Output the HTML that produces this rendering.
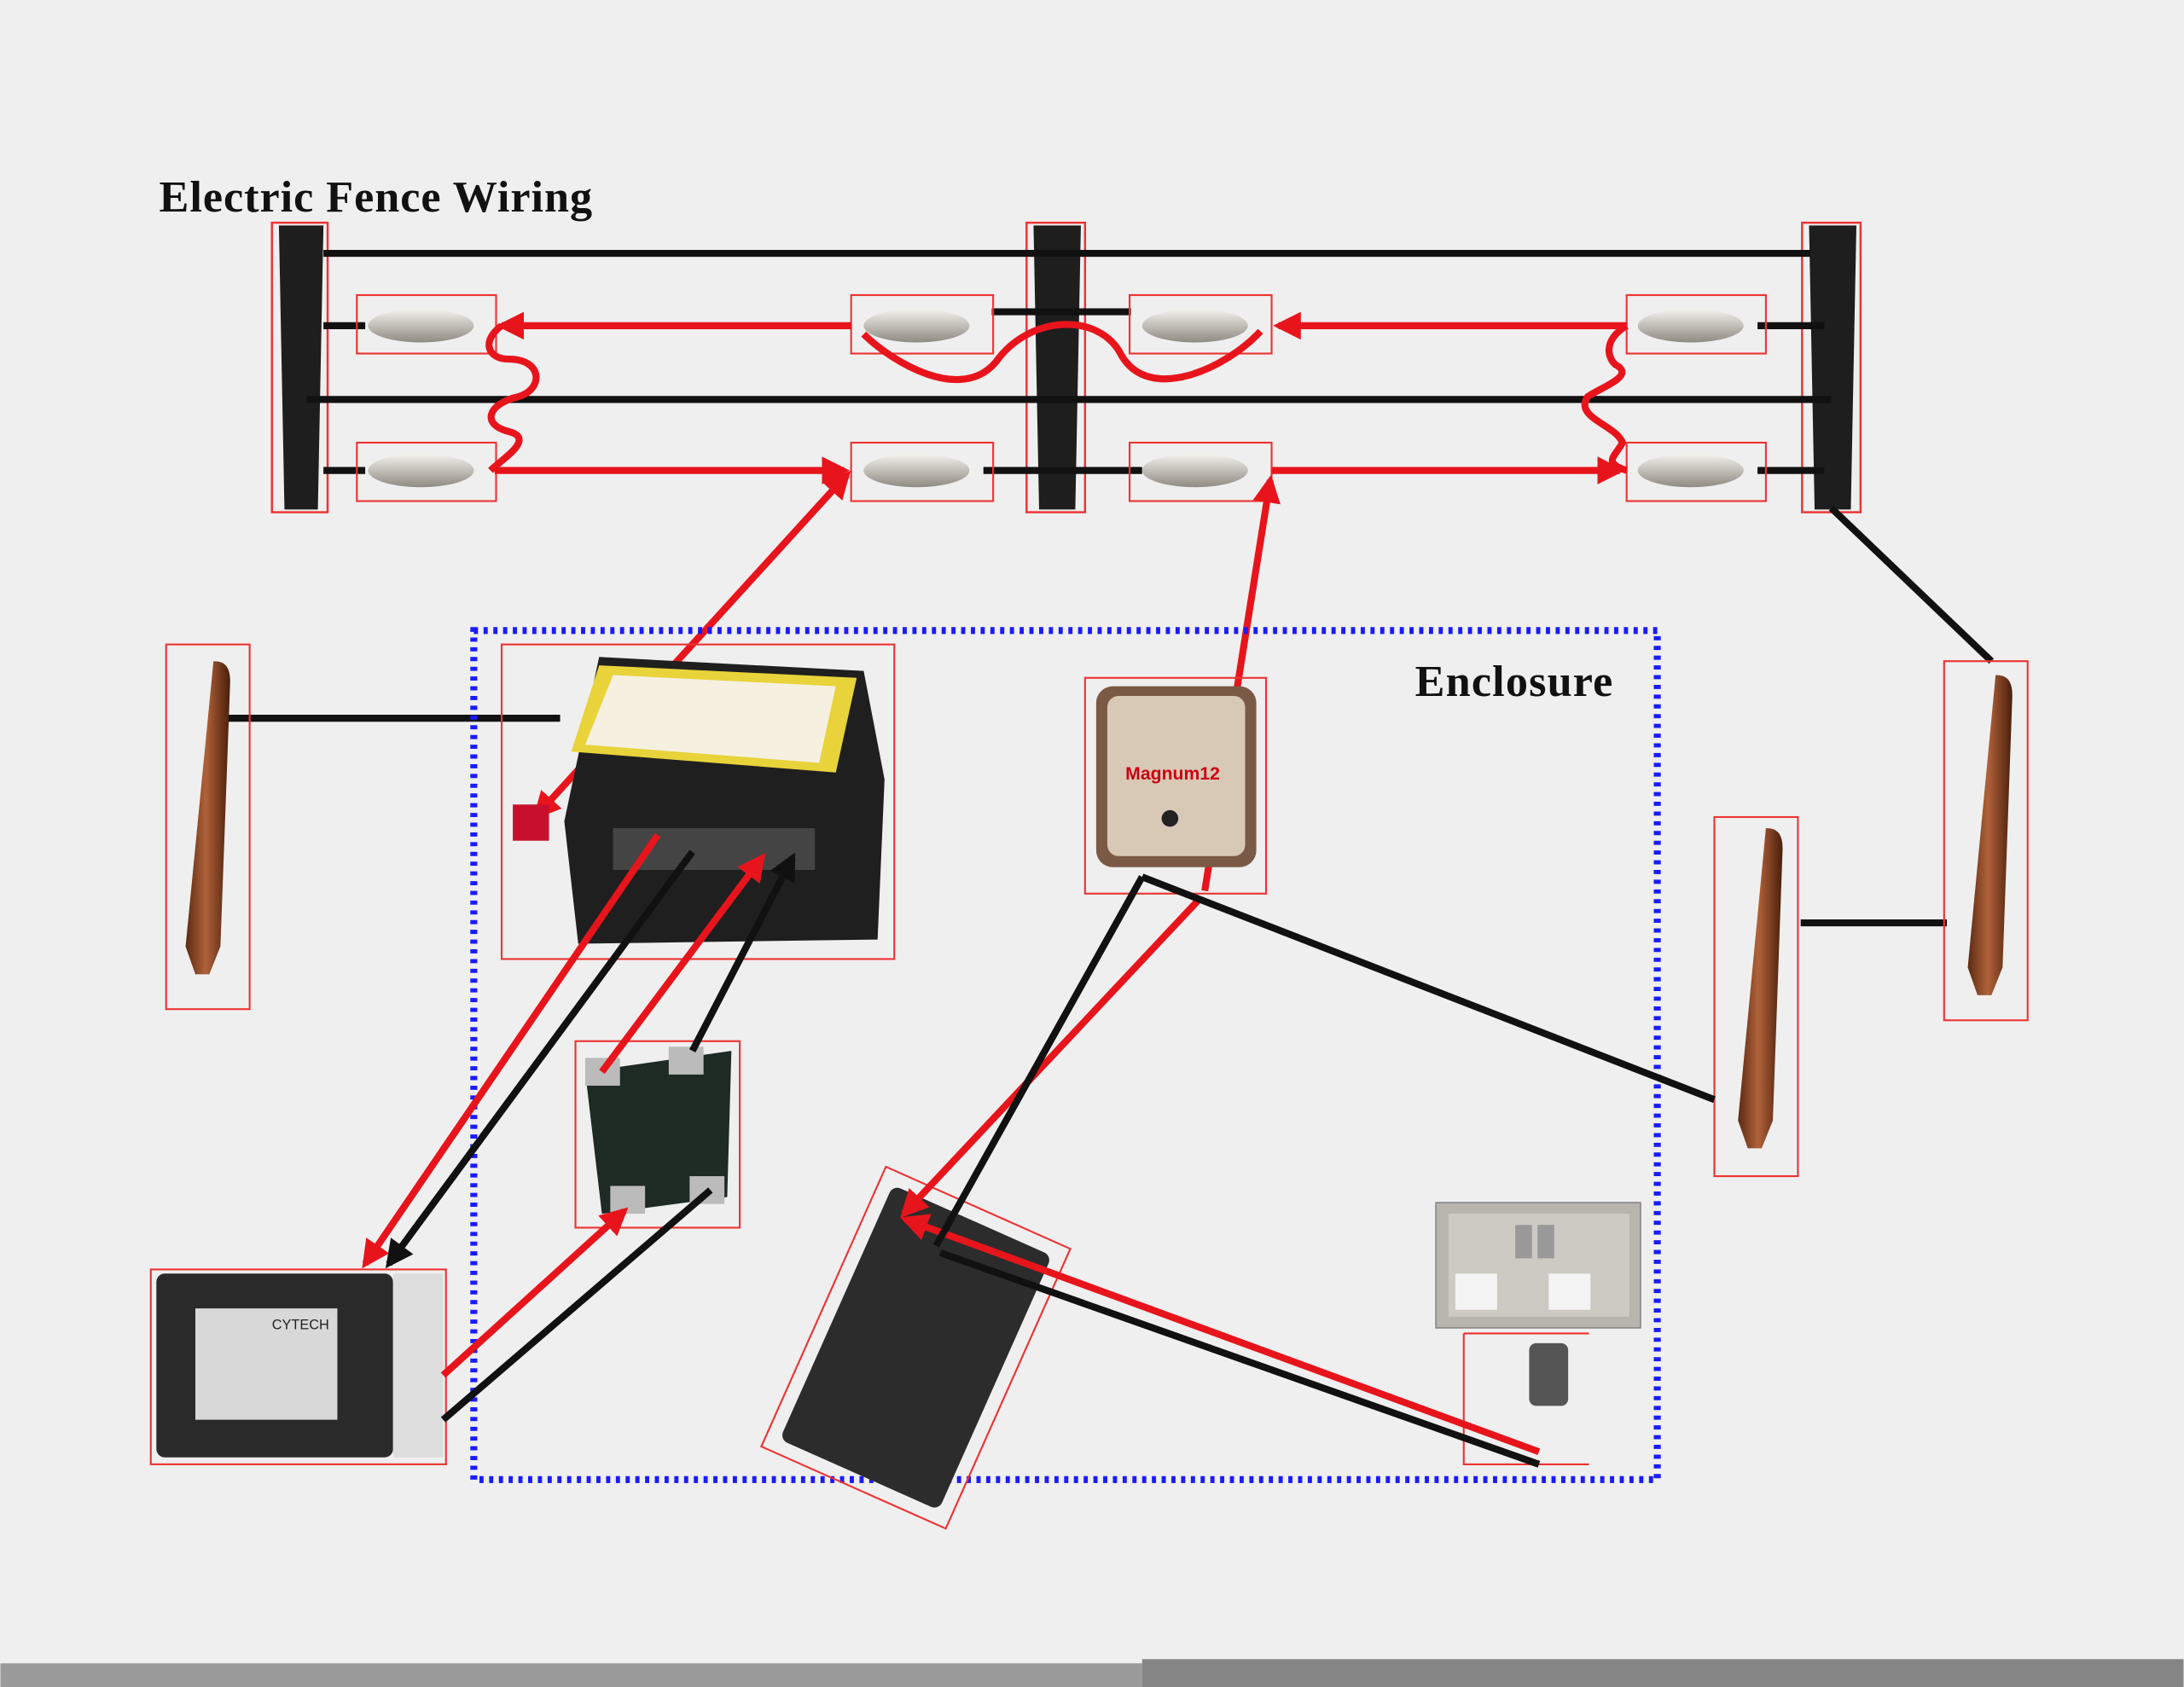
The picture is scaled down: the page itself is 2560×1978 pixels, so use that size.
<!DOCTYPE html>
<html><head><meta charset="utf-8"><style>
html,body{margin:0;padding:0;background:#efefef;}
svg{display:block}
</style></head><body>
<svg width="2560" height="1978" viewBox="0 0 1568 1212" xmlns="http://www.w3.org/2000/svg">
<defs>
<marker id="ar" viewBox="0 0 10 10" refX="8" refY="5" markerWidth="4" markerHeight="4" orient="auto-start-reverse"><path d="M0,0L10,5L0,10z" fill="#e8141c"/></marker>
<marker id="ab" viewBox="0 0 10 10" refX="8" refY="5" markerWidth="4" markerHeight="4" orient="auto-start-reverse"><path d="M0,0L10,5L0,10z" fill="#111"/></marker>
<linearGradient id="rod" x1="0" x2="1"><stop offset="0" stop-color="#5a2a12"/><stop offset=".45" stop-color="#b0623a"/><stop offset="1" stop-color="#4a1e0a"/></linearGradient>
<linearGradient id="ins" x1="0" y1="0" x2="0" y2="1"><stop offset="0" stop-color="#f4f2ee"/><stop offset="1" stop-color="#8f8a82"/></linearGradient>
</defs>
<rect width="1568" height="1212" fill="#efefef"/>
<text x="114" y="152" font-family="Liberation Serif, serif" font-weight="bold" font-size="32" textLength="311" fill="#111">Electric Fence Wiring</text>

<g>
<rect x="195" y="160" width="40" height="208" fill="none" stroke="#e33" stroke-width="1.5"/>
<path d="M200,162 L232,162 L228,366 L204,366z" fill="#1e1e1e"/>
<rect x="737" y="160" width="42" height="208" fill="none" stroke="#e33" stroke-width="1.5"/>
<path d="M742,162 L776,162 L772,366 L746,366z" fill="#1e1e1e"/>
<rect x="1294" y="160" width="42" height="208" fill="none" stroke="#e33" stroke-width="1.5"/>
<path d="M1299,162 L1333,162 L1329,366 L1303,366z" fill="#1e1e1e"/>
</g>

<g stroke="#111" stroke-width="5" fill="none">
<line x1="232" y1="182" x2="1300" y2="182"/>
<line x1="220" y1="287" x2="1315" y2="287"/>
<line x1="232" y1="234" x2="262" y2="234"/>
<line x1="232" y1="338" x2="262" y2="338"/>
<line x1="712" y1="224" x2="812" y2="224"/>
<line x1="706" y1="338" x2="820" y2="338"/>
<line x1="1262" y1="234" x2="1310" y2="234"/>
<line x1="1262" y1="338" x2="1310" y2="338"/>
<line x1="1315" y1="365" x2="1430" y2="475"/>
<line x1="160" y1="516" x2="402" y2="516"/>
<line x1="1293" y1="663" x2="1398" y2="663"/>
</g>

<g>
<rect x="256" y="212" width="100" height="42" fill="none" stroke="#e33" stroke-width="1.3"/><ellipse cx="302" cy="234" rx="38" ry="12" fill="url(#ins)"/>
<rect x="256" y="318" width="100" height="42" fill="none" stroke="#e33" stroke-width="1.3"/><ellipse cx="302" cy="338" rx="38" ry="12" fill="url(#ins)"/>
<rect x="611" y="212" width="102" height="42" fill="none" stroke="#e33" stroke-width="1.3"/><ellipse cx="658" cy="234" rx="38" ry="12" fill="url(#ins)"/>
<rect x="611" y="318" width="102" height="42" fill="none" stroke="#e33" stroke-width="1.3"/><ellipse cx="658" cy="338" rx="38" ry="12" fill="url(#ins)"/>
<rect x="811" y="212" width="102" height="42" fill="none" stroke="#e33" stroke-width="1.3"/><ellipse cx="858" cy="234" rx="38" ry="12" fill="url(#ins)"/>
<rect x="811" y="318" width="102" height="42" fill="none" stroke="#e33" stroke-width="1.3"/><ellipse cx="858" cy="338" rx="38" ry="12" fill="url(#ins)"/>
<rect x="1168" y="212" width="100" height="42" fill="none" stroke="#e33" stroke-width="1.3"/><ellipse cx="1214" cy="234" rx="38" ry="12" fill="url(#ins)"/>
<rect x="1168" y="318" width="100" height="42" fill="none" stroke="#e33" stroke-width="1.3"/><ellipse cx="1214" cy="338" rx="38" ry="12" fill="url(#ins)"/>
</g>

<g stroke="#e8141c" stroke-width="5" fill="none">
<line x1="611" y1="234" x2="360" y2="234" marker-end="url(#ar)"/>
<line x1="1168" y1="234" x2="918" y2="234" marker-end="url(#ar)"/>
<line x1="355" y1="338" x2="606" y2="338" marker-end="url(#ar)"/>
<line x1="913" y1="338" x2="1163" y2="338" marker-end="url(#ar)"/>
<path d="M360,234 C345,245 350,258 365,258 C390,258 390,280 372,285 C350,290 345,305 365,310 C385,315 360,330 352,338"/>
<path d="M1168,234 C1150,245 1155,258 1160,262 C1175,270 1150,278 1140,285 C1130,300 1160,305 1165,318 C1160,328 1150,332 1168,338"/>
<path d="M620,240 C640,260 690,290 715,260 C740,225 790,225 805,255 C825,290 880,265 905,238"/>
<line x1="385" y1="586" x2="608" y2="341" marker-start="url(#ar)" marker-end="url(#ar)"/>
<line x1="865" y1="640" x2="912" y2="345" marker-end="url(#ar)"/>
</g>

<g>
<rect x="119" y="463" width="60" height="262" fill="none" stroke="#e33" stroke-width="1.3"/>
<path d="M153,475 C162,475 165,480 165,490 L158,680 L150,700 L140,700 L133,680 Z" fill="url(#rod)"/>
<rect x="1396" y="475" width="60" height="258" fill="none" stroke="#e33" stroke-width="1.3"/>
<path d="M1433,485 C1442,485 1445,490 1445,500 L1438,695 L1430,715 L1420,715 L1413,695 Z" fill="url(#rod)"/>
<rect x="1231" y="587" width="60" height="258" fill="none" stroke="#e33" stroke-width="1.3"/>
<path d="M1268,595 C1277,595 1280,600 1280,610 L1273,805 L1265,825 L1255,825 L1248,805 Z" fill="url(#rod)"/>
</g>

<rect x="340" y="453" width="850" height="610" fill="none" stroke="#1a1aff" stroke-width="5" stroke-dasharray="3,4"/>
<text x="1016" y="500" font-family="Liberation Serif, serif" font-weight="bold" font-size="32" textLength="142" fill="#111">Enclosure</text>

<rect x="360" y="463" width="282" height="226" fill="none" stroke="#e33" stroke-width="1.3"/>
<path d="M430,472 L620,482 L635,560 L630,675 L415,678 L405,590 Z" fill="#1f1f1f"/>
<path d="M430,478 L615,487 L600,555 L410,540 Z" fill="#e8d33a"/>
<path d="M440,485 L600,493 L588,548 L420,535 Z" fill="#f5f0e0"/>
<rect x="440" y="595" width="145" height="30" fill="#444"/>
<rect x="368" y="578" width="26" height="26" fill="#c8102e"/>

<rect x="779" y="487" width="130" height="155" fill="none" stroke="#e33" stroke-width="1.3"/>
<rect x="787" y="493" width="115" height="130" rx="12" fill="#7a5a45"/>
<rect x="795" y="500" width="99" height="115" rx="8" fill="#d8c8b6"/>
<text x="808" y="560" font-family="Liberation Sans, sans-serif" font-weight="bold" font-size="13" fill="#c01">Magnum12</text>
<circle cx="840" cy="588" r="6" fill="#222"/>

<rect x="413" y="748" width="118" height="134" fill="none" stroke="#e33" stroke-width="1.3"/>
<path d="M420,770 L525,755 L522,860 L432,872 Z" fill="#1e2a24"/>
<rect x="420" y="760" width="25" height="20" fill="#bbb"/><rect x="480" y="752" width="25" height="20" fill="#bbb"/>
<rect x="438" y="852" width="25" height="20" fill="#bbb"/><rect x="495" y="845" width="25" height="20" fill="#bbb"/>

<rect x="108" y="912" width="212" height="140" fill="none" stroke="#e33" stroke-width="1.3"/>
<rect x="112" y="915" width="170" height="132" rx="6" fill="#2a2a2a"/>
<rect x="140" y="940" width="102" height="80" fill="#d8d8d8"/>
<text x="195" y="955" font-family="Liberation Sans, sans-serif" font-size="10" fill="#222">CYTECH</text>
<rect x="282" y="915" width="36" height="132" fill="#ddd"/>

<g transform="rotate(24 657 968)">
<rect x="585" y="858" width="145" height="220" fill="none" stroke="#e33" stroke-width="1.3"/>
<rect x="595" y="868" width="125" height="200" rx="6" fill="#2c2c2c"/>
</g>

<rect x="1031" y="864" width="147" height="90" fill="#b8b4ae" stroke="#888"/>
<rect x="1040" y="872" width="130" height="74" fill="#cdc9c3"/>
<rect x="1088" y="880" width="12" height="24" fill="#999"/><rect x="1104" y="880" width="12" height="24" fill="#999"/>
<rect x="1045" y="915" width="30" height="26" fill="#f4f4f4"/><rect x="1112" y="915" width="30" height="26" fill="#f4f4f4"/>

<path d="M1051,958 L1141,958 M1051,958 L1051,1052 L1141,1052" fill="none" stroke="#e33" stroke-width="1.3"/>
<rect x="1098" y="965" width="28" height="45" rx="5" fill="#555"/>

<g stroke="#e8141c" stroke-width="5" fill="none">
<line x1="472" y1="600" x2="262" y2="908" marker-end="url(#ar)"/>
<line x1="432" y1="770" x2="547" y2="616" marker-end="url(#ar)"/>
<line x1="318" y1="988" x2="448" y2="870" marker-end="url(#ar)"/>
<line x1="862" y1="645" x2="649" y2="872" marker-end="url(#ar)"/>
<line x1="1105" y1="1043" x2="650" y2="876" marker-end="url(#ar)"/>
</g>
<g stroke="#111" stroke-width="5" fill="none">
<line x1="497" y1="612" x2="279" y2="908" marker-end="url(#ab)"/>
<line x1="497" y1="755" x2="569" y2="616" marker-end="url(#ab)"/>
<line x1="318" y1="1020" x2="510" y2="855"/>
<line x1="820" y1="630" x2="672" y2="895"/>
<line x1="820" y1="630" x2="1231" y2="790"/>
<line x1="1105" y1="1052" x2="675" y2="900"/>
</g>

<rect x="0" y="1195" width="820" height="17" fill="#9a9a9a"/>
<rect x="820" y="1192" width="748" height="20" fill="#858585"/>
</svg>
</body></html>
